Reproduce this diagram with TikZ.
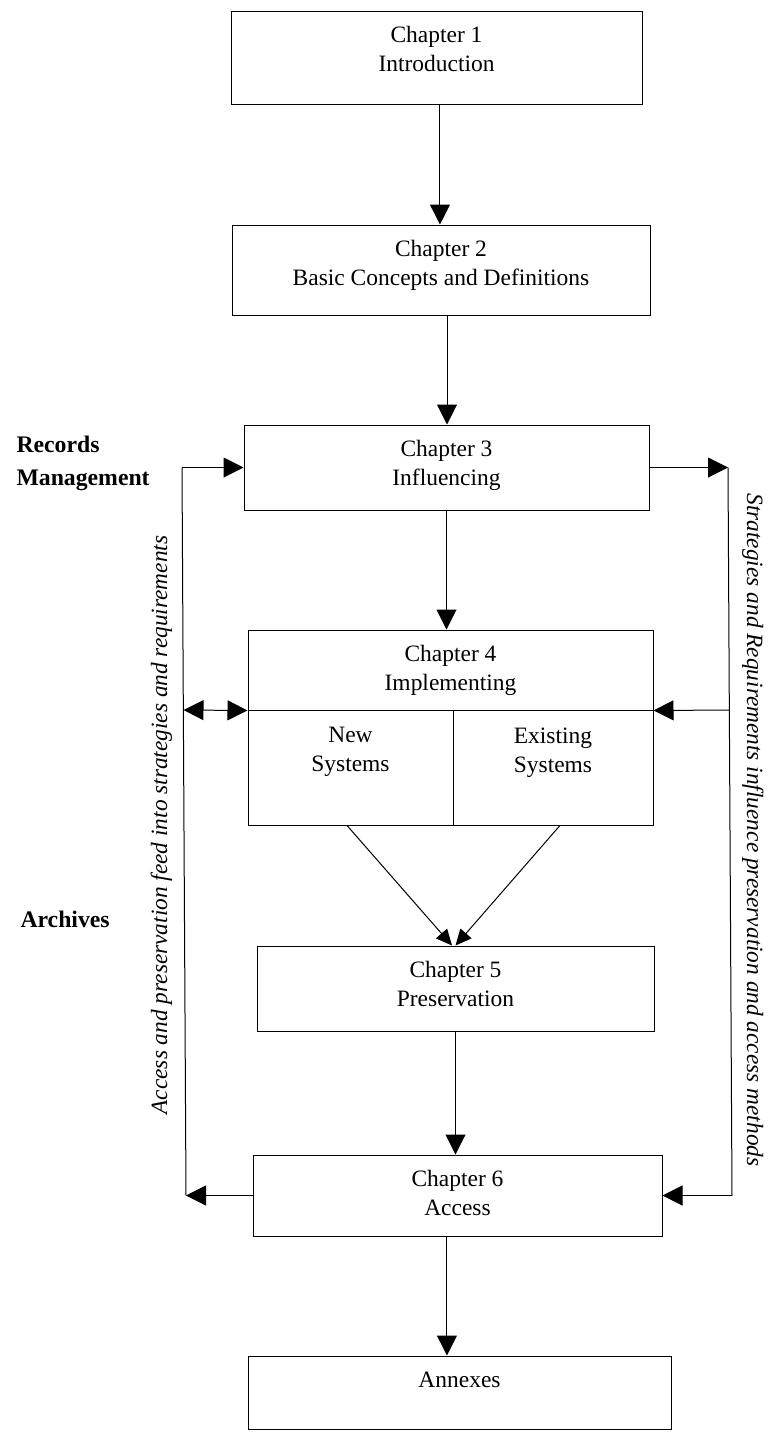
\documentclass[tikz,border=0pt]{standalone}
\usepackage{fontspec}
\setmainfont{Liberation Serif}
\usetikzlibrary{arrows.meta,fit,calc}

\tikzset{every picture/.style={line width=0.75pt}}
\tikzset{
  chapbox/.style={draw, inner sep=0pt},
  chaptext/.style={anchor=north, inner sep=0pt, align=center, font=\fontsize{17.6pt}{21.75pt}\selectfont},
  sidelabel/.style={anchor=north west, inner sep=0pt, align=left, font=\fontsize{17.8pt}{24.75pt}\selectfont\bfseries},
  loopnote/.style={anchor=base, inner sep=0pt, font=\fontsize{17.5pt}{21pt}\selectfont\itshape},
  arr/.style={-{Triangle[length=15pt,width=15pt]}},
  diagarr/.style={-{Triangle[length=12pt,width=11pt]}},
  darr/.style={{Triangle[length=15pt,width=15pt]}-{Triangle[length=15pt,width=15pt]}},
}

\begin{document}
\begin{tikzpicture}[x=0.75pt,y=0.75pt,yscale=-1,xscale=1]
\useasboundingbox (0,0) rectangle (768,1432);

%Shape: Rectangle
\node[chapbox, fit={(231,11) (642,104)}] (ch1) {};
\node[chapbox, fit={(232,225) (650,315)}] (ch2) {};
\node[chapbox, fit={(244,425) (649,510)}] (ch3) {};
%Shape: Rectangle (split box)
\node[chapbox, fit={(248,630) (653,710)}] (ch4top) {};
\node[chapbox, fit={(248,710) (453,825)}] (ch4new) {};
\node[chapbox, fit={(453,710) (653,825)}] (ch4old) {};
%Shape: Rectangle
\node[chapbox, fit={(257,946) (654,1031)}] (ch5) {};
\node[chapbox, fit={(253,1155) (662,1236)}] (ch6) {};
\node[chapbox, fit={(248,1356) (671,1429)}] (annex) {};

% Text Node
\node[chaptext] (ch1txt) at ($(ch1.north)+(0,15.5)$) {Chapter 1\\Introduction};
\node[chaptext] (ch2txt) at ($(ch2.north)+(0,15.5)$) {Chapter 2\\Basic Concepts and Definitions};
\node[chaptext] (ch3txt) at ($(ch3.north)+(0,15.5)$) {Chapter 3\\Influencing};
\node[chaptext] (ch4txt) at ($(ch4top.north)+(0,15)$) {Chapter 4\\Implementing};
\node[chaptext] (newtxt) at ($(ch4new.north)+(0,17.5)$) {New\\Systems};
\node[chaptext] (oldtxt) at ($(ch4old.north)+(0,17.5)$) {Existing\\Systems};
\node[chaptext] (ch5txt) at ($(ch5.north)+(0,15.5)$) {Chapter 5\\Preservation};
\node[chaptext] (ch6txt) at ($(ch6.north)+(0,15.5)$) {Chapter 6\\Access};
\node[chaptext] (annextxt) at ($(annex.north)+(0,15.5)$) {Annexes};

% Text Node
\node[sidelabel] (recmgmt) at (16,436) {Records\\Management};
\node[sidelabel] (archives) at (20,911) {Archives};
\node[loopnote, rotate=90] (feednote) at (167,825) {Access and preservation feed into strategies and requirements};
\node[loopnote, rotate=-90] (methodnote) at (747,830) {Strategies and Requirements influence preservation and access methods};

%Straight Lines
\draw[arr] ([xshift=2.6pt]ch1.south) -- ([xshift=2.6pt]ch1.south |- ch2.north);
\draw[arr] ([xshift=4.5pt]ch2.south) -- ([xshift=4.5pt]ch2.south |- ch3.north);
\draw[arr] (ch3.south) -- (ch3.south |- ch4top.north);
\draw[diagarr] ([xshift=-2.6pt]ch4new.south) -- ([xshift=-2.6pt]ch5.north);
\draw[diagarr] ([xshift=5.2pt]ch4old.south) -- (ch5.north);
\draw[arr] (ch5.south) -- (ch5.south |- ch6.north);
\draw[arr] ([xshift=-7.9pt]ch6.south) -- ([xshift=-7.9pt]ch6.south |- annex.north);

%Straight Lines (left loop)
\coordinate (lt) at (182,467.5);
\coordinate (lm) at (183.5,710);
\coordinate (lb) at (186,1195.5);
\draw[arr] (lt) -- (ch3.west);
\draw (lt) -- (lb);
\draw[darr] (lm) -- (ch4top.south west);
\draw[arr] (ch6.west) -- (lb);

%Straight Lines (right loop)
\coordinate (rt) at (728,467.5);
\coordinate (rm) at (729.5,710);
\coordinate (rb) at (732,1195.5);
\draw[arr] (ch3.east) -- (rt);
\draw (rt) -- (rb);
\draw[arr] (rm) -- (ch4top.south east);
\draw[arr] (rb) -- (ch6.east);

\end{tikzpicture}
\end{document}
